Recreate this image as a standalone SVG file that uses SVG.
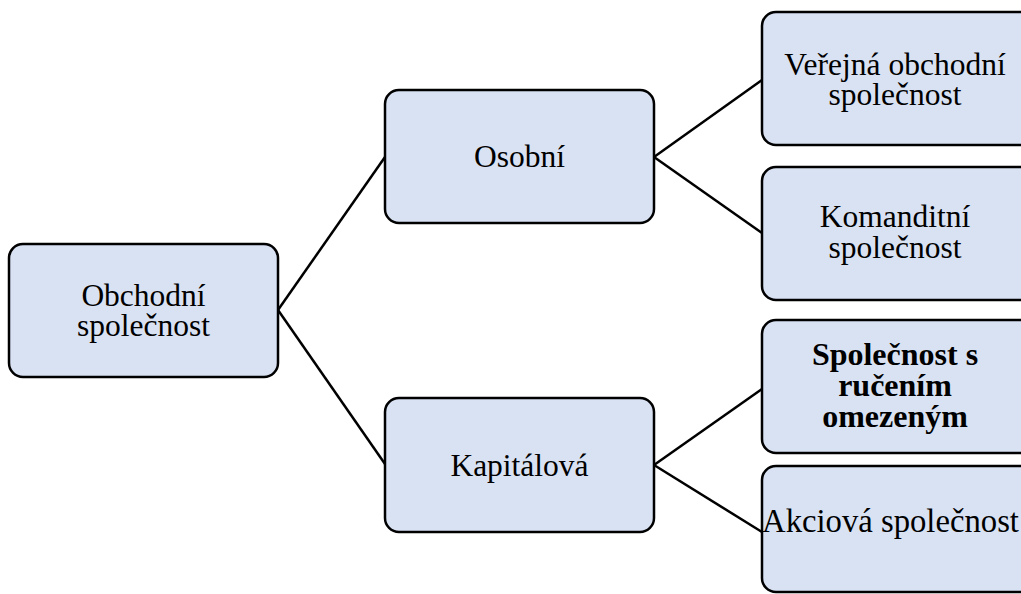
<svg xmlns="http://www.w3.org/2000/svg" width="1021" height="594" viewBox="0 0 1021 594">
<style>
.box{fill:#D9E2F3;stroke:#000;stroke-width:2.5}
.t{font-family:"Liberation Serif","Times New Roman",serif;font-size:31.5px;fill:#000;text-anchor:middle}
.b{font-weight:bold;font-size:32px}
.big{font-size:32.7px}
.c{stroke:#000;stroke-width:2.5;fill:none}
</style>
<rect width="1021" height="594" fill="#fff"/>
<g id="connectors">
<line class="c" x1="278" y1="310" x2="385" y2="157"/>
<line class="c" x1="278" y1="310" x2="385" y2="464"/>
<line class="c" x1="654" y1="157" x2="762" y2="80"/>
<line class="c" x1="654" y1="157" x2="762" y2="233"/>
<line class="c" x1="654" y1="465" x2="762" y2="389"/>
<line class="c" x1="654" y1="465" x2="762" y2="532"/>
</g>
<g id="n-obchodni">
<rect class="box" x="9" y="244" width="269" height="133" rx="14"/>
<text class="t"><tspan x="143.5" y="306">Obchodní</tspan><tspan x="143.5" y="336">společnost</tspan></text>
</g>
<g id="n-osobni">
<rect class="box" x="385" y="90" width="269" height="133" rx="14"/>
<text class="t" x="519.5" y="167">Osobní</text>
</g>
<g id="n-kapitalova">
<rect class="box" x="385" y="398" width="269" height="134" rx="14"/>
<text class="t" x="519.5" y="476">Kapitálová</text>
</g>
<g id="n-vos">
<rect class="box" x="762" y="12" width="272" height="133" rx="14"/>
<text class="t"><tspan x="895" y="75">Veřejná obchodní</tspan><tspan x="895" y="105">společnost</tspan></text>
</g>
<g id="n-ks">
<rect class="box" x="762" y="167" width="272" height="133" rx="14"/>
<text class="t"><tspan x="895" y="227">Komanditní</tspan><tspan x="895" y="258">společnost</tspan></text>
</g>
<g id="n-sro">
<rect class="box" x="762" y="320" width="272" height="133" rx="14"/>
<text class="t b"><tspan x="895" y="365">Společnost s</tspan><tspan x="895" y="396">ručením</tspan><tspan x="895" y="427">omezeným</tspan></text>
</g>
<g id="n-as">
<rect class="box" x="762" y="466" width="272" height="126" rx="14"/>
<text class="t big" x="890.5" y="532">Akciová společnost</text>
</g>
</svg>
